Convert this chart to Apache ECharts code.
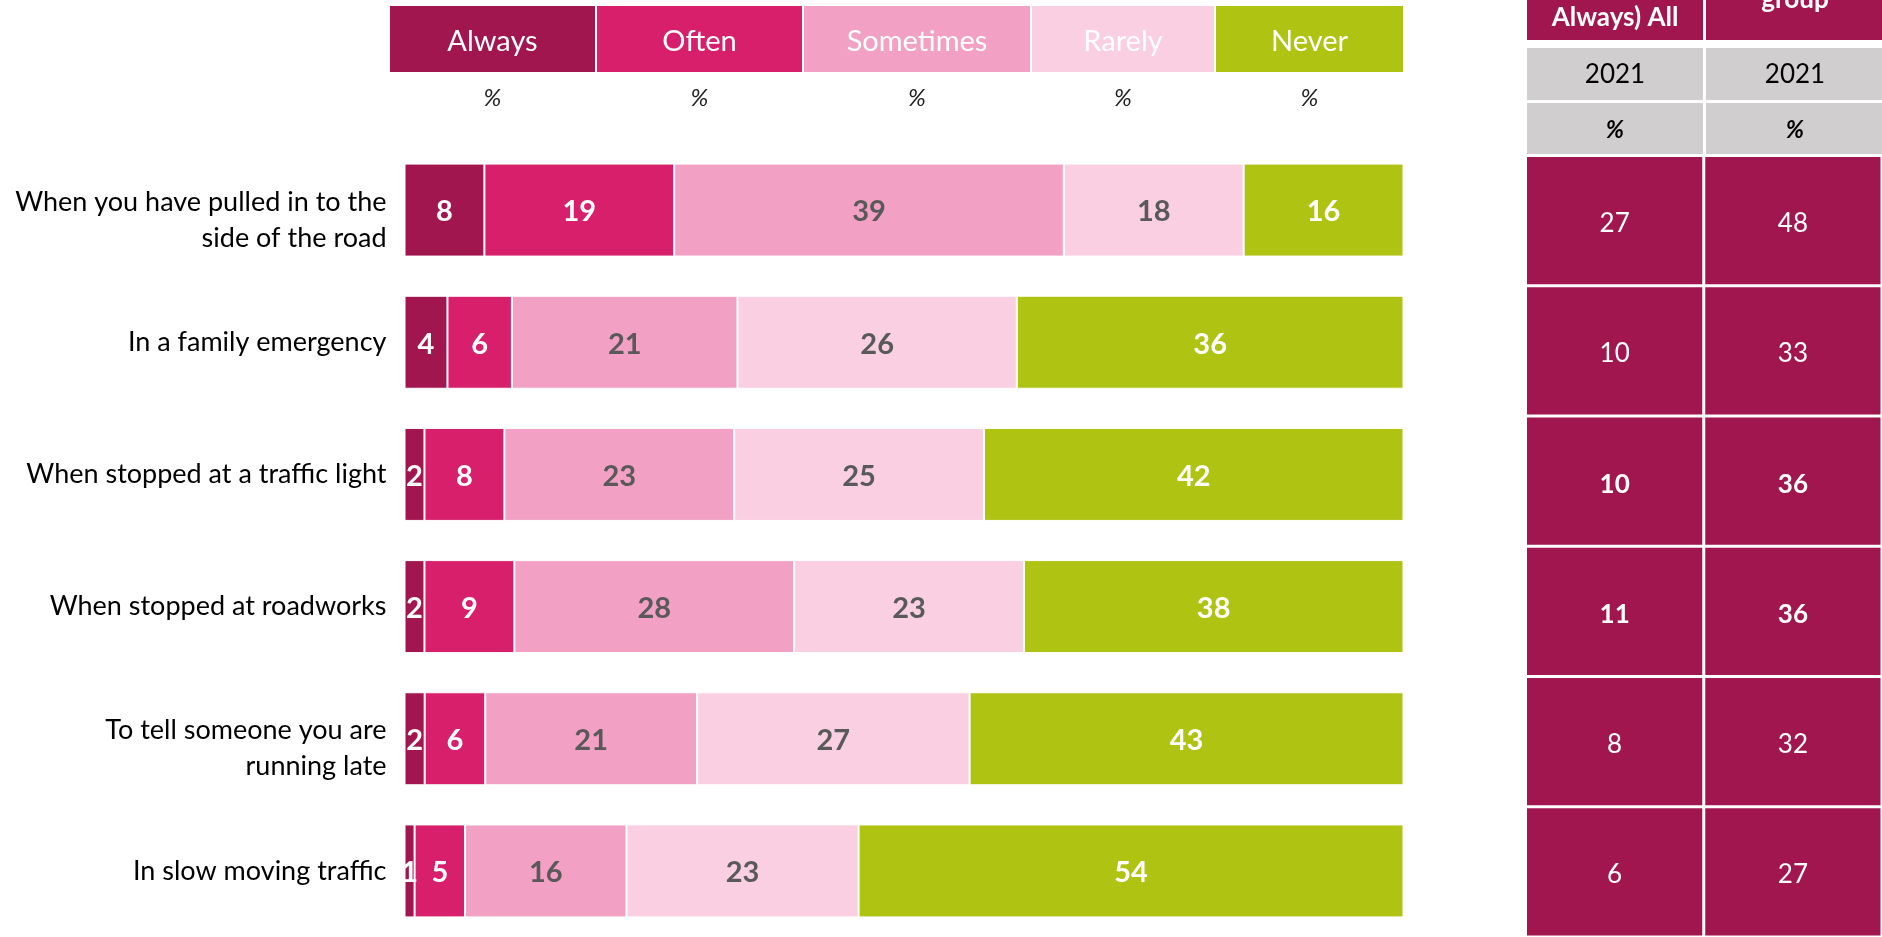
<!DOCTYPE html>
<html>
<head>
<meta charset="utf-8">
<title>Phone use while stopped</title>
<script src="https://cdn.jsdelivr.net/npm/echarts@6/dist/echarts.min.js"></script>
<style>
  html, body { margin: 0; padding: 0; background: #fff; }
  #chart { width: 1882px; height: 937px; }
</style>
</head>
<body>
<div id="chart"></div>
<script>
// situations (top to bottom)
const categories = [
  'When you have pulled in to the\nside of the road',
  'In a family emergency',
  'When stopped at a traffic light',
  'When stopped at roadworks',
  'To tell someone you are\nrunning late',
  'In slow moving traffic'
];
const seriesNames = ['Always', 'Often', 'Sometimes', 'Rarely', 'Never'];
const always = [8, 4, 2, 2, 2, 1];
const often = [19, 6, 8, 9, 6, 5];
const sometimes = [39, 21, 23, 28, 21, 16];
const rarely = [18, 26, 25, 23, 27, 23];
const never = [16, 36, 42, 38, 43, 54];

// right-hand table (Often + Always)
const tableColumns = ['Always) All', 'group'];
const tableYear = ['2021', '2021'];
const tableAll = [27, 10, 10, 11, 8, 6];
const tableGroup = [48, 33, 36, 36, 32, 27];
const tableBold = [false, false, true, true, false, false];

const colors = ['#A1164F', '#D81F6B', '#F2A1C5', '#F9CFE1', '#AFC313'];
const labelColors = ['#fff', '#fff', '#595959', '#595959', '#fff'];
const FONT = 'Lato';

const rows = [always, often, sometimes, rarely, never];
const totals = categories.map((c, i) => rows.reduce((s, r) => s + r[i], 0));

const chart = echarts.init(document.getElementById('chart'));

// legend boxes above the bars
const legendBoxes = [[390, 205], [597, 205], [804, 226], [1032, 182], [1216, 187]];
const graphic = [];
seriesNames.forEach((name, i) => {
  const [x, w] = legendBoxes[i];
  graphic.push({
    type: 'rect', shape: { x: x, y: 6, width: w, height: 66 },
    style: { fill: colors[i] }
  });
  graphic.push({
    type: 'text', x: x + w / 2, y: 42,
    style: { text: name, fill: '#fff', font: '29px ' + FONT, align: 'center', verticalAlign: 'middle' }
  });
  graphic.push({
    type: 'text', x: x + w / 2, y: 98,
    style: { text: '%', fill: '#222', font: 'italic 24px ' + FONT, align: 'center', verticalAlign: 'middle' }
  });
});

// table header rows
const colX = [[1527, 176], [1706, 178]];
colX.forEach(([x, w], i) => {
  graphic.push({ type: 'rect', shape: { x: x, y: -20, width: w, height: 60 }, style: { fill: '#A1164F' } });
  graphic.push({
    type: 'text', x: x + w / 2, y: i === 0 ? 18 : 0,
    style: { text: tableColumns[i], fill: '#fff', font: 'bold 26px ' + FONT, align: 'center', verticalAlign: 'middle' }
  });
  graphic.push({ type: 'rect', shape: { x: x, y: 48, width: w, height: 52 }, style: { fill: '#D0CECE' } });
  graphic.push({
    type: 'text', x: x + w / 2, y: 75,
    style: { text: tableYear[i], fill: '#000', font: '26px ' + FONT, align: 'center', verticalAlign: 'middle' }
  });
  graphic.push({ type: 'rect', shape: { x: x, y: 103, width: w, height: 51 }, style: { fill: '#D0CECE' } });
  graphic.push({
    type: 'text', x: x + w / 2, y: 130,
    style: { text: '%', fill: '#000', font: 'italic bold 24px ' + FONT, align: 'center', verticalAlign: 'middle' }
  });
});

const barSeries = rows.map((vals, si) => ({
  name: seriesNames[si],
  type: 'bar',
  stack: 'total',
  barWidth: 93,
  xAxisIndex: 0,
  yAxisIndex: 0,
  data: vals.map((v, i) => ({ value: v / totals[i] * 100, raw: v })),
  itemStyle: { color: colors[si], borderColor: '#fff', borderWidth: 1 },
  label: {
    show: true,
    position: 'inside',
    color: labelColors[si],
    fontFamily: FONT,
    fontWeight: 'bold',
    fontSize: 29,
    offset: [0, 2],
    formatter: (p) => String(p.data.raw)
  },
  emphasis: { disabled: true },
  animation: false
}));

const tableData = [];
categories.forEach((c, i) => {
  tableData.push([0, i, tableAll[i], tableBold[i]]);
  tableData.push([1, i, tableGroup[i], tableBold[i]]);
});

const tableSeries = {
  type: 'custom',
  xAxisIndex: 1,
  yAxisIndex: 1,
  data: tableData,
  animation: false,
  renderItem: (params, api) => {
    const pt = api.coord([api.value(0), api.value(1)]);
    const size = api.size([1, 1]);
    const bold = tableData[params.dataIndex][3];
    return {
      type: 'group',
      children: [
        {
          type: 'rect',
          shape: { x: pt[0] - size[0] / 2 + 1.5, y: pt[1] - size[1] / 2 + 1.5, width: size[0] - 3, height: size[1] - 3 },
          style: { fill: '#A1164F' }
        },
        {
          type: 'text',
          x: pt[0], y: pt[1] + 3,
          style: {
            text: String(api.value(2)), fill: '#fff',
            font: (bold ? 'bold ' : '') + '26px ' + FONT,
            align: 'center', verticalAlign: 'middle'
          }
        }
      ]
    };
  }
};

const option = {
  backgroundColor: '#fff',
  animation: false,
  graphic: graphic,
  grid: [
    { left: 404.5, width: 999, top: 144, height: 796, containLabel: false },
    { left: 1525.5, width: 358, top: 155.5, height: 786, containLabel: false }
  ],
  xAxis: [
    { type: 'value', gridIndex: 0, min: 0, max: 100, show: false },
    { type: 'category', gridIndex: 1, data: tableColumns, show: false }
  ],
  yAxis: [
    {
      type: 'category', gridIndex: 0, data: categories, inverse: true,
      axisLine: { show: false }, axisTick: { show: false }, splitLine: { show: false },
      axisLabel: {
        color: '#000', fontFamily: FONT, fontSize: 27, lineHeight: 36, margin: 18, align: 'right',
        // two-line labels sit a little below the bar centre
        formatter: (v) => (v.indexOf('\n') >= 0 ? '{gap| }\n' + v : v),
        rich: { gap: { fontSize: 4, lineHeight: 20, height: 20 } }
      }
    },
    { type: 'category', gridIndex: 1, data: categories, inverse: true, show: false }
  ],
  series: barSeries.concat([tableSeries])
};

chart.setOption(option);
</script>
</body>
</html>
